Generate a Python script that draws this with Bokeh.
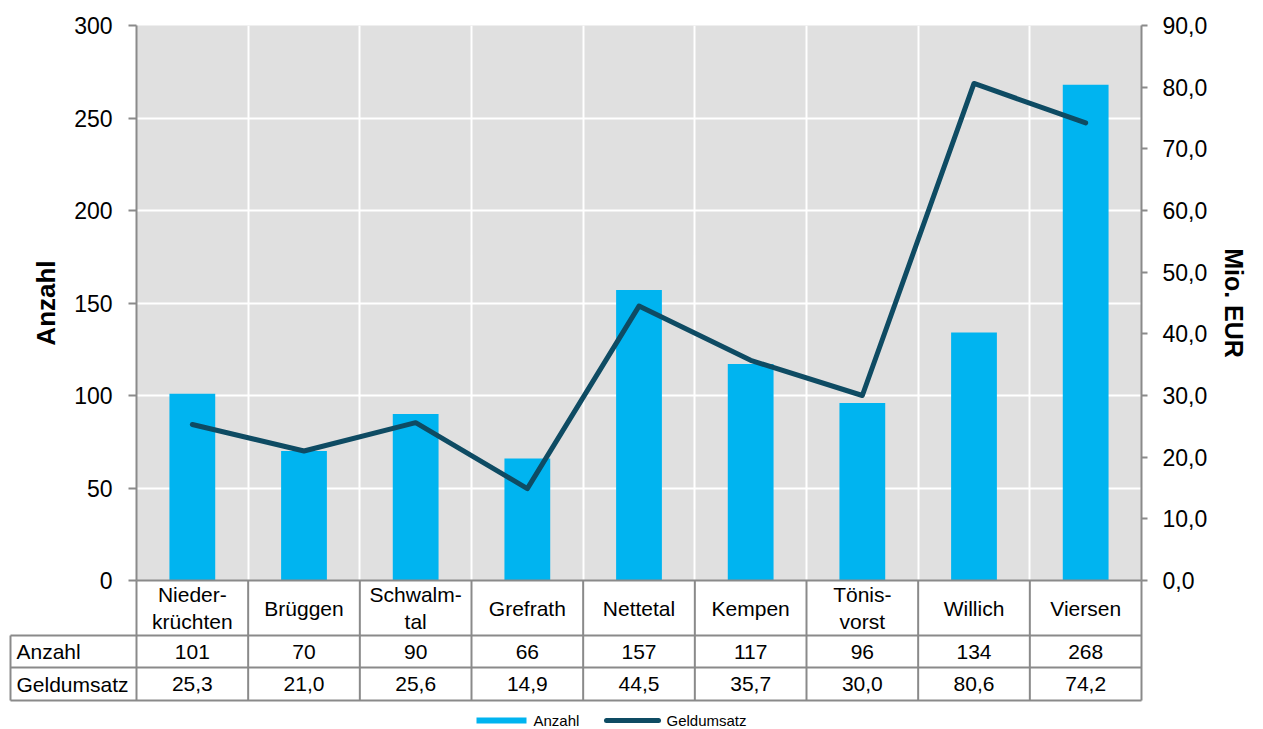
from bokeh.plotting import figure
from bokeh.models import Range1d, LinearAxis, FixedTicker, CustomJSTickFormatter
from bokeh.core.properties import value
from bokeh.embed import file_html
from bokeh.resources import INLINE

# ---------------- data ----------------
categories = ["Nieder-\nkrüchten", "Brüggen", "Schwalm-\ntal", "Grefrath", "Nettetal",
              "Kempen", "Tönis-\nvorst", "Willich", "Viersen"]
anzahl = [101, 70, 90, 66, 157, 117, 96, 134, 268]
geldumsatz = [25.3, 21.0, 25.6, 14.9, 44.5, 35.7, 30.0, 80.6, 74.2]
left_ticks = [0, 50, 100, 150, 200, 250, 300]
right_ticks = [0, 10, 20, 30, 40, 50, 60, 70, 80, 90]
row_labels = ["Anzahl", "Geldumsatz"]
legend_labels = ["Anzahl", "Geldumsatz"]
axis_titles = ["Anzahl", "Mio. EUR"]

anzahl_text = [str(v) for v in anzahl]
geld_text = [f"{v:.1f}".replace(".", ",") for v in geldumsatz]

# ---------------- style / layout ----------------
FONT = "Liberation Sans"
BAR = "#00B4F0"
LINE = "#0E4B63"
GRAY = "#8A8A8A"
FW, FH = 1005, 555
n = len(categories)
xs = list(range(n))
PX_X = FW / n
PX_Y = FH / left_ticks[-1]
F_LEFT, F_TOP = 136, 25
F_BOTTOM = F_TOP + FH


def X(px):
    return -0.5 + (px - F_LEFT) / PX_X


def Y(py):
    return (F_BOTTOM - py) / PX_Y


p = figure(frame_width=FW, frame_height=FH,
           min_border_left=F_LEFT, min_border_right=112,
           min_border_top=F_TOP, min_border_bottom=729 - F_BOTTOM,
           x_range=Range1d(-0.5, n - 0.5), y_range=Range1d(0, left_ticks[-1]),
           x_axis_location=None, output_backend="svg", toolbar_location=None,
           background_fill_color="#E0E0E0", border_fill_color="white",
           outline_line_color=None)

# grid
p.ygrid.ticker = FixedTicker(ticks=left_ticks)
p.ygrid.grid_line_color = "white"
p.ygrid.grid_line_width = 2
p.xgrid.ticker = FixedTicker(ticks=[i + 0.5 for i in range(n - 1)])
p.xgrid.grid_line_color = "white"
p.xgrid.grid_line_width = 2

# left axis
ya = p.yaxis[0]
ya.ticker = FixedTicker(ticks=left_ticks)
ya.axis_line_color = GRAY
ya.axis_line_width = 2
ya.major_tick_line_color = GRAY
ya.major_tick_line_width = 2
ya.major_tick_out = 8
ya.major_tick_in = 0
ya.minor_tick_line_color = None
ya.major_label_text_font = FONT
ya.major_label_text_font_size = "23px"
ya.major_label_text_color = "black"
ya.major_label_standoff = 16
ya.axis_label = axis_titles[0]
ya.axis_label_text_font = FONT
ya.axis_label_text_font_size = "26px"
ya.axis_label_text_font_style = "bold"
ya.axis_label_text_color = "black"
ya.axis_label_standoff = 10

# right axis
p.extra_y_ranges = {"geld": Range1d(0, right_ticks[-1])}
ra = LinearAxis(y_range_name="geld", ticker=FixedTicker(ticks=right_ticks),
                formatter=CustomJSTickFormatter(code="return tick.toFixed(1).replace('.', ',');"))
ra.axis_line_color = GRAY
ra.axis_line_width = 2
ra.major_tick_line_color = GRAY
ra.major_tick_line_width = 2
ra.major_tick_out = 6
ra.major_tick_in = 0
ra.minor_tick_line_color = None
ra.major_label_text_font = FONT
ra.major_label_text_font_size = "23px"
ra.major_label_text_color = "black"
ra.major_label_standoff = 15
ra.axis_label = axis_titles[1]
ra.axis_label_text_font = FONT
ra.axis_label_text_font_size = "25px"
ra.axis_label_text_font_style = "bold"
ra.axis_label_text_color = "black"
ra.axis_label_standoff = 10
p.add_layout(ra, "right")

# bars and line
p.vbar(x=xs, top=anzahl, width=0.41, fill_color=BAR, line_color=None)
p.line(xs, geldumsatz, y_range_name="geld", line_color=LINE, line_width=5,
       line_join="round", line_cap="round")

# ---------------- data table below ----------------
def unclipped(r):
    r.level = "annotation"
    return r

txt = dict(text_font=value(FONT), text_color="black", text_baseline="middle")

unclipped(p.text(x=xs, y=[Y(607.5)] * n, text=categories, text_align="center",
                 text_font_size="21px", text_line_height=1.15, **txt))
unclipped(p.text(x=xs, y=[Y(651)] * n, text=anzahl_text, text_align="center",
                 text_font_size="21px", **txt))
unclipped(p.text(x=xs, y=[Y(683.5)] * n, text=geld_text, text_align="center",
                 text_font_size="21px", **txt))
unclipped(p.text(x=[X(16)] * 2, y=[Y(651), Y(683.5)], text=row_labels, text_align="left",
                 text_font_size="21px", **txt))

# table borders
x0s, y0s, x1s, y1s = [], [], [], []
for i in range(n + 1):
    x0s.append(i - 0.5); x1s.append(i - 0.5); y0s.append(Y(580)); y1s.append(Y(700))
x0s.append(X(10)); x1s.append(X(10)); y0s.append(Y(635)); y1s.append(Y(700))
for py in (635, 667, 700):
    x0s.append(X(10)); x1s.append(n - 0.5); y0s.append(Y(py)); y1s.append(Y(py))
x0s.append(-0.5); x1s.append(n - 0.5); y0s.append(Y(580)); y1s.append(Y(580))
unclipped(p.segment(x0=x0s, y0=y0s, x1=x1s, y1=y1s, line_color=GRAY, line_width=2))

# ---------------- legend ----------------
LY = 720
unclipped(p.quad(left=[X(476)], right=[X(526)], bottom=[Y(LY + 3)], top=[Y(LY - 3)],
                 fill_color=BAR, line_color=None))
unclipped(p.segment(x0=[X(606)], y0=[Y(LY)], x1=[X(658)], y1=[Y(LY)],
                    line_color=LINE, line_width=5, line_cap="round"))
unclipped(p.text(x=[X(533), X(666)], y=[Y(LY), Y(LY)], text=legend_labels,
                 text_align="left", text_font_size="15px", **txt))

open("out.html", "w").write(file_html(p, INLINE))
